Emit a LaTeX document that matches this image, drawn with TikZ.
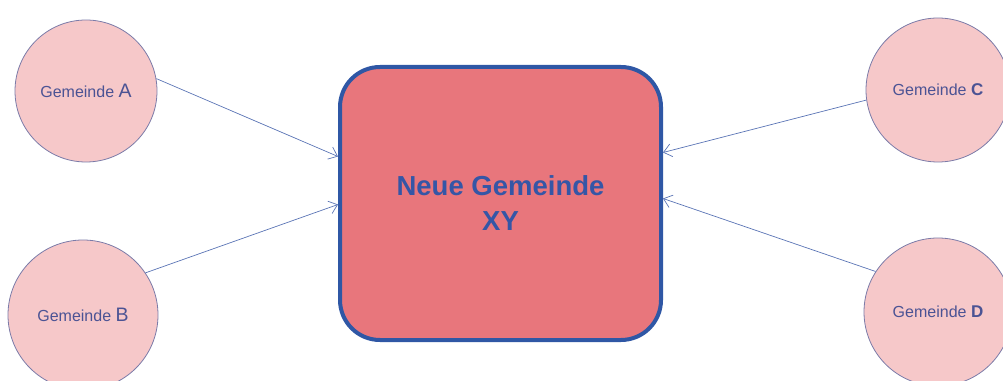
\documentclass[tikz,border=0pt]{standalone}
\usepackage{fontspec}
\setmainfont{Liberation Sans}
\usetikzlibrary{arrows.meta,calc}
\definecolor{circfill}{HTML}{F6C8C9}
\definecolor{circline}{HTML}{7B7BA8}
\definecolor{circtext}{HTML}{4B5394}
\definecolor{boxfill}{HTML}{E8767C}
\definecolor{boxline}{HTML}{2F57A5}
\definecolor{boxtext}{HTML}{3556A6}
\definecolor{arrowcol}{HTML}{5A74B5}
\tikzset{
  gem/.style={circle, draw=circline, fill=circfill, line width=0.8pt, inner sep=0pt, text=circtext, font=\fontsize{16}{18}\selectfont},
  mainbox/.style={draw=boxline, fill=boxfill, line width=4pt, rounded corners=40pt, minimum width=321pt, minimum height=273pt, inner sep=0pt, text=boxtext, align=center, font=\bfseries\fontsize{27.5}{35}\selectfont},
  conn/.style={draw=arrowcol, line width=0.7pt, -{Straight Barb[length=8pt,width=13pt,line width=0.7pt]}},
}
\begin{document}
\begin{tikzpicture}[x=1pt,y=1pt]
\useasboundingbox (0,0) rectangle (1003,380);
\node[mainbox] (box) at (500.5,176.5) {Neue Gemeinde\\XY};
\node[gem, minimum size=142pt] (A) at (86,289) {Gemeinde {\fontsize{19.5}{19.5}\selectfont A}};
\node[gem, minimum size=150pt] (B) at (83,65) {Gemeinde {\fontsize{19.5}{19.5}\selectfont B}};
\node[gem, minimum size=144pt] (C) at (938,290) {Gemeinde {\fontsize{17}{17}\selectfont\bfseries C}};
\node[gem, minimum size=148pt] (D) at (938,68) {Gemeinde {\fontsize{17}{17}\selectfont\bfseries D}};
\coordinate (eA) at ($(box.west)+(0,47)$);
\coordinate (eB) at ($(box.west)+(0,-1)$);
\coordinate (eC) at ($(box.east)+(0,51)$);
\coordinate (eD) at ($(box.east)+(0,5)$);
\draw[conn] (A.10) -- (eA);
\draw[conn] (B.34) -- (eB);
\draw[conn] (C.188) -- (eC);
\draw[conn] (D.147) -- (eD);
\end{tikzpicture}
\end{document}
